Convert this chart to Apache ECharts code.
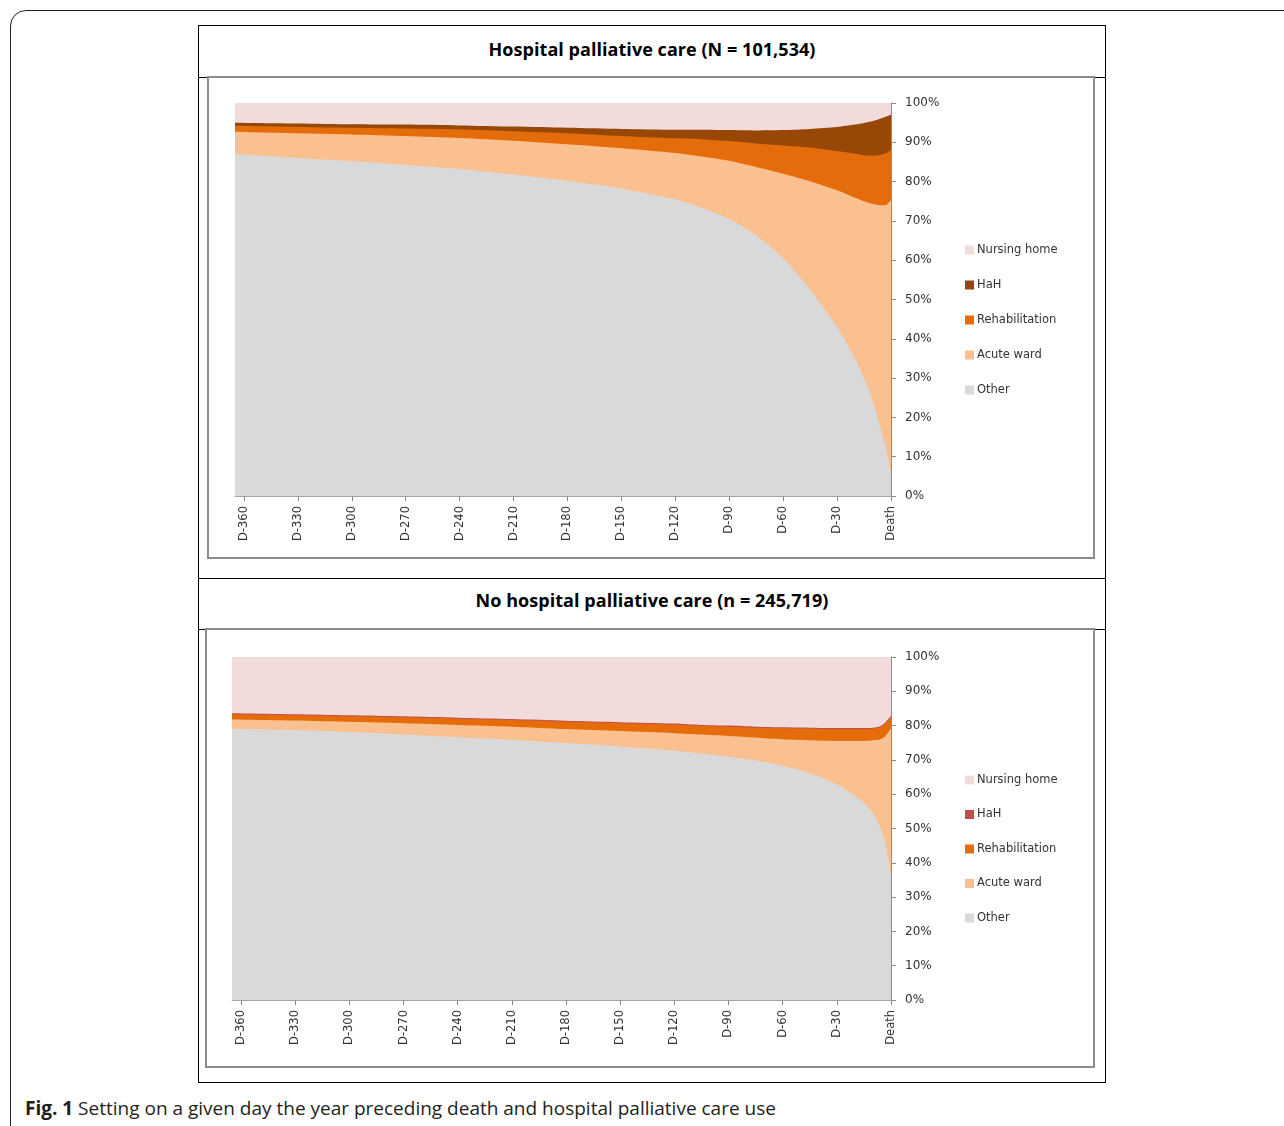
<!DOCTYPE html>
<html>
<head>
<meta charset="utf-8">
<script src="https://cdn.jsdelivr.net/npm/echarts@6/dist/echarts.min.js"></script>
<style>
  html, body { margin: 0; padding: 0; background: #fff; }
  body { width: 1284px; height: 1126px; position: relative; overflow: hidden; font-family: "Open Sans", sans-serif; }
  .page { position: absolute; left: 10px; top: 10px; width: 1300px; height: 1140px; border: 1.5px solid #231f20; border-radius: 16px; }
  .frame { position: absolute; left: 198px; top: 25px; width: 906px; height: 1056px; border: 1px solid #000; }
  .hline { position: absolute; left: 198px; width: 908px; height: 1px; background: #000; }
  .title { position: absolute; left: 198px; width: 908px; text-align: center; font-weight: 700; font-size: 18px; color: #000; letter-spacing: 0.05px; }
  .box { position: absolute; border: 2px solid #8c8c8c; box-sizing: border-box; }
  .chart { position: absolute; }
  .caption { position: absolute; left: 25px; top: 1095px; font-size: 19px; color: #231f20; }
</style>
</head>
<body>
<div class="page"></div>
<div class="frame"></div>
<div class="hline" style="top:77px"></div>
<div class="hline" style="top:578px"></div>
<div class="hline" style="top:629px"></div>
<div class="title" style="top:37px">Hospital palliative care (N = 101,534)</div>
<div class="title" style="top:588px">No hospital palliative care (n = 245,719)</div>
<div class="box" style="left:207px; top:76px; width:888px; height:483px"></div>
<div class="box" style="left:205px; top:628px; width:890px; height:440px"></div>
<div id="c1" class="chart" style="left:208px; top:78px; width:886px; height:480px"></div>
<div id="c2" class="chart" style="left:206px; top:630px; width:888px; height:437px"></div>
<div class="caption"><b>Fig. 1</b> Setting on a given day the year preceding death and hospital palliative care use</div>
<script>
// 天数（距死亡）
var days = [-365, -330, -300, -270, -240, -210, -180, -150, -120, -105, -90, -75, -60, -45, -30, -20, -15, -10, -6, -3, 0];
var tickDays = [-360, -330, -300, -270, -240, -210, -180, -150, -120, -90, -60, -30, 0];
var legendNames = ['Nursing home', 'HaH', 'Rehabilitation', 'Acute ward', 'Other'];

// Hospital palliative care (%)
var other1    = [87.0, 86.0, 85.2, 84.3, 83.2, 81.8, 80.2, 78.2, 75.5, 73.3, 70.5, 66.3, 60.5, 52.5, 43.0, 35.0, 30.0, 24.0, 17.5, 12.5, 6.0];
var acute1    = [5.7, 6.3, 6.8, 7.3, 7.9, 8.6, 9.3, 10.3, 11.8, 13.1, 14.8, 17.4, 21.5, 27.6, 34.8, 40.9, 45.0, 50.3, 56.5, 61.5, 69.3];
var rehab1    = [1.5, 1.6, 1.7, 1.9, 2.2, 2.4, 2.8, 3.1, 3.7, 4.4, 5.0, 6.0, 7.2, 8.6, 10.0, 11.2, 11.7, 12.3, 12.8, 13.2, 12.7];
var hah1      = [0.8, 0.9, 0.9, 1.0, 1.0, 1.2, 1.4, 1.8, 2.2, 2.4, 2.8, 3.3, 3.9, 4.7, 6.1, 7.4, 8.2, 8.8, 9.2, 9.3, 9.0];
var nursing1  = [5.0, 5.2, 5.4, 5.5, 5.7, 6.0, 6.3, 6.6, 6.8, 6.8, 6.9, 7.0, 6.9, 6.6, 6.1, 5.5, 5.1, 4.6, 4.0, 3.5, 3.0];

// No hospital palliative care (%)
var other2    = [79.1, 78.7, 78.1, 77.4, 76.6, 75.8, 74.9, 73.9, 72.7, 71.9, 70.9, 69.8, 68.3, 66.1, 62.8, 59.5, 57.5, 54.5, 50.5, 45.5, 36.0];
var acute2    = [2.7, 2.8, 3.0, 3.3, 3.6, 3.9, 4.1, 4.5, 5.1, 5.5, 6.1, 6.7, 7.7, 9.6, 12.7, 16.0, 18.0, 21.2, 25.5, 31.5, 43.2];
var rehab2    = [1.5, 1.5, 1.6, 1.7, 1.8, 1.9, 2.1, 2.3, 2.5, 2.5, 2.7, 2.9, 3.2, 3.4, 3.5, 3.5, 3.5, 3.4, 3.5, 3.6, 3.2];
var hah2      = [0.3, 0.3, 0.3, 0.3, 0.3, 0.3, 0.3, 0.3, 0.3, 0.3, 0.3, 0.3, 0.3, 0.3, 0.3, 0.3, 0.3, 0.3, 0.3, 0.4, 0.4];
var nursing2  = [16.4, 16.7, 17.0, 17.3, 17.7, 18.1, 18.6, 19.0, 19.4, 19.8, 20.0, 20.3, 20.5, 20.6, 20.7, 20.7, 20.7, 20.6, 20.2, 19.0, 17.2];

// 累加：把各层从下往上叠起来，每层画到 0，后画的盖住先画的
function cumulate(layers) {
    var out = [];
    var run = days.map(function () { return 0; });
    for (var k = 0; k < layers.length; k++) {
        run = run.map(function (v, i) { return v + layers[k][i]; });
        out.push(run.slice());
    }
    return out;
}

function pairs(vals) {
    var out = [];
    for (var i = 0; i < days.length; i++) {
        out.push([days[i], vals[i]]);
    }
    return out;
}

function areaSerie(name, vals, color, z) {
    return {
        name: name,
        type: 'line',
        smooth: 0.25,
        symbol: 'none',
        color: color,
        z: z,
        lineStyle: { width: 0 },
        areaStyle: { color: color, opacity: 1 },
        data: pairs(vals)
    };
}

function makeOption(s, grid, legendPos, hahColor) {
    // 顺序：Other, Acute ward, Rehabilitation, HaH, Nursing home
    var cum = cumulate([s.other, s.acute, s.rehab, s.hah, s.nursing]);
    return {
        animation: false,
        textStyle: { fontFamily: 'DejaVu Sans' },
        legend: {
            data: legendNames,
            orient: 'vertical',
            left: legendPos.left,
            top: legendPos.top,
            itemGap: legendPos.gap,
            itemWidth: 9,
            itemHeight: 9,
            icon: 'rect',
            textStyle: { fontSize: 11.5, color: '#333', padding: [0, 0, 0, -2] }
        },
        grid: grid,
        xAxis: {
            type: 'value',
            min: -365,
            max: 0,
            axisLine: { show: true, lineStyle: { color: '#a6a6a6' } },
            axisTick: { show: true, length: 5, customValues: tickDays, lineStyle: { color: '#8c8c8c' } },
            splitLine: { show: false },
            axisLabel: {
                customValues: tickDays,
                rotate: 90,
                fontSize: 11.5,
                color: '#333',
                margin: 10,
                formatter: function (v) { return v === 0 ? 'Death' : 'D' + v; }
            }
        },
        yAxis: {
            type: 'value',
            position: 'right',
            min: 0,
            max: 100,
            interval: 10,
            axisLine: { show: true, lineStyle: { color: '#8c8c8c' } },
            axisTick: { show: true, length: 5, lineStyle: { color: '#8c8c8c' } },
            splitLine: { show: false },
            axisLabel: { fontSize: 12, color: '#333', margin: 14, formatter: '{value}%' }
        },
        series: [
            areaSerie('Nursing home', cum[4], '#f2dcdb', 1),
            areaSerie('HaH', cum[3], hahColor, 2),
            areaSerie('Rehabilitation', cum[2], '#e46c0a', 3),
            areaSerie('Acute ward', cum[1], '#fac090', 4),
            areaSerie('Other', cum[0], '#d9d9d9', 5)
        ]
    };
}

var chart1 = echarts.init(document.getElementById('c1'));
chart1.setOption(makeOption(
    { other: other1, acute: acute1, rehab: rehab1, hah: hah1, nursing: nursing1 },
    { left: 27, top: 25, width: 656, height: 393 },
    { left: 752, top: 161, gap: 23 },
    '#974706'
));

var chart2 = echarts.init(document.getElementById('c2'));
chart2.setOption(makeOption(
    { other: other2, acute: acute2, rehab: rehab2, hah: hah2, nursing: nursing2 },
    { left: 26, top: 27, width: 659, height: 343 },
    { left: 754, top: 139, gap: 22.5 },
    '#c0504d'
));
</script>
</body>
</html>
